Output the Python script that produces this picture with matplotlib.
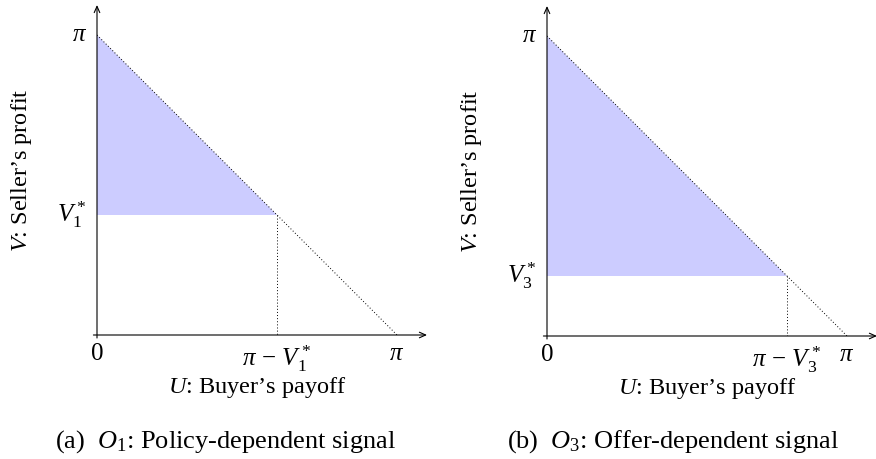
import matplotlib
matplotlib.use('Agg')
import matplotlib.pyplot as plt

plt.rcParams['font.family'] = 'Liberation Serif'
plt.rcParams['mathtext.fontset'] = 'custom'
plt.rcParams['mathtext.rm'] = 'Liberation Serif'
plt.rcParams['mathtext.it'] = 'Liberation Serif:italic'

# payoffs in units of pi
PI = 1.0
v_star = [0.4, 0.2]
signal_idx = ['1', '3']
captions = [r'(a)  $O_1$: Policy-dependent signal',
            r'(b)  $O_3$: Offer-dependent signal']
x_label = r'$U$: Buyer’s payoff'
y_label = r'$V$: Seller’s profit'

FILL = '#ccccff'
W, H = 876, 459

fig = plt.figure(figsize=(W / 100, H / 100), dpi=100)

# axes origin (px from left, px from top) for each panel
origins = [(97, 335), (547, 336)]
caption_x = [225, 673]
span = 330  # px covering 1.1 * pi

for (ox, oy), v, k, cap, cx in zip(origins, v_star, signal_idx, captions, caption_x):
    ax = fig.add_axes([ox / W, (H - oy) / H, span / W, span / H])
    ax.set_xlim(0, 1.1 * PI)
    ax.set_ylim(0, 1.1 * PI)
    ax.axis('off')

    # seller-acceptable region above V*
    ax.fill([0, 0, PI - v], [v, PI, v], color=FILL, lw=0, zorder=1)

    dot = dict(color='black', lw=0.7, linestyle=(0, (1, 2.2)), zorder=2)
    ax.plot([0, PI], [PI, 0], **dot)
    ax.plot([PI - v, PI - v], [v, 0], **dot)

    arrow = dict(arrowstyle='->,head_length=0.45,head_width=0.2', lw=0.8, color='black',
                 shrinkA=0, shrinkB=0)
    ax.annotate('', xy=(1.1 * PI, 0), xytext=(-0.012, 0), arrowprops=arrow,
                annotation_clip=False)
    ax.annotate('', xy=(0, 1.1 * PI), xytext=(0, -0.01), arrowprops=arrow,
                annotation_clip=False)

    fs = 18
    ax.text(-0.033, PI, r'$\pi$', ha='right', va='center', fontsize=fs)
    ax.text(-0.035, v, r'$V_%s^*$' % k, ha='right', va='center', fontsize=fs)
    ax.text(0, -0.028, r'$0$', ha='center', va='top', fontsize=fs)
    ax.text(PI - v, -0.028, r'$\pi\,-\,V_%s^*$' % k, ha='center', va='top', fontsize=fs)
    ax.text(PI, -0.028, r'$\pi$', ha='center', va='top', fontsize=fs)

    ax.text(0.535, -0.175, x_label, ha='center', va='center', fontsize=17.5)
    ax.text(-0.25, 0.55, y_label, ha='center', va='center', rotation=90, fontsize=17.5)

    fig.text(cx / W, 1 - 442 / H, cap, ha='center', va='center', fontsize=19)

fig.savefig('out.png', dpi=100)
